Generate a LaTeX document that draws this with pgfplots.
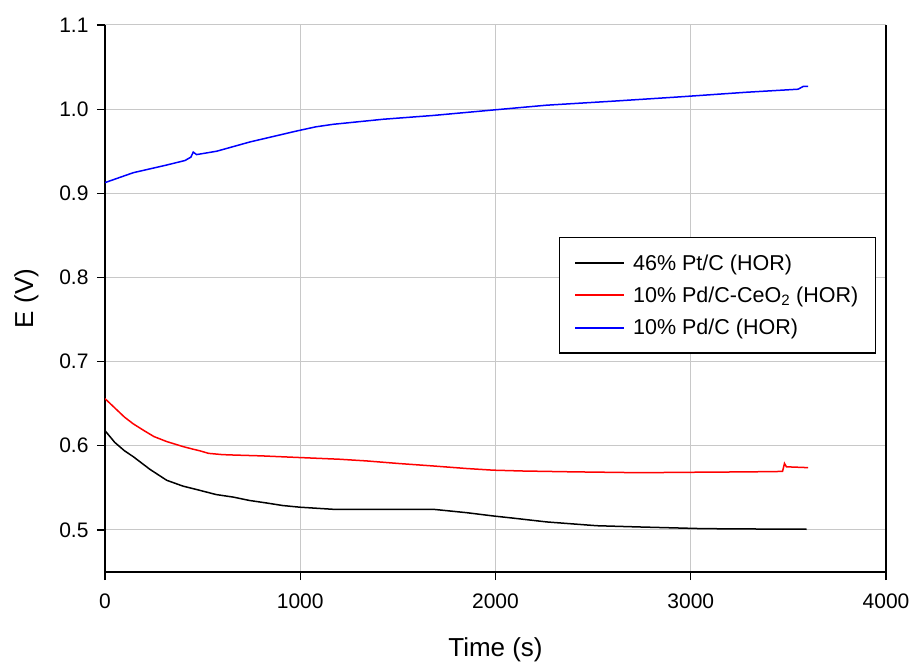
\documentclass[border=0pt]{standalone}
\usepackage{fontspec}
\setmainfont{Liberation Sans}
\usepackage{pgfplots}
\pgfplotsset{compat=1.18}
\definecolor{gridgray}{RGB}{200,200,200}
\begin{document}
\begin{tikzpicture}
\begin{axis}[
  scale only axis,
  width=781pt, height=547pt,
  xmin=0, xmax=4000, ymin=0.45, ymax=1.1,
  axis x line*=bottom, axis y line*=left,
  axis line style={line width=1.3pt, -},
  xtick={0,1000,2000,3000,4000},
  ytick={0.5,0.6,0.7,0.8,0.9,1.0,1.1},
  tick align=outside,
  major tick length=8pt,
  tick style={line width=1.2pt, black},
  grid=major,
  major grid style={line width=1pt, gridgray},
  /pgf/number format/assume math mode=true,
  xticklabel style={yshift=-10pt, /pgf/number format/1000 sep={}},
  yticklabel style={xshift=-5pt, /pgf/number format/.cd, fixed, fixed zerofill, precision=1},
  ticklabel style={font=\fontsize{21}{25}\selectfont},
  xlabel={Time (s)}, ylabel={E (V)},
  xlabel style={yshift=-22pt},
  ylabel style={yshift=14pt},
  label style={font=\fontsize{26}{30}\selectfont},
  legend style={draw=black, line width=1.2pt, at={(0.987,0.612)}, anchor=north east,
    font=\fontsize{21.5}{25}\selectfont, row sep=11pt, inner xsep=15pt, inner ysep=15pt,
    cells={anchor=west}},
  legend cell align=left,
]
\addplot[color=black, line width=1.5pt,
  legend image code/.code={\draw[black, line width=2pt] (0pt,0pt) -- (49pt,0pt); \path (55pt,0pt);}] coordinates {
(0,0.618) (50,0.604) (100,0.594) (145,0.587) (230,0.572) (316,0.559) (400,0.552)
(486,0.547) (570,0.542) (657,0.539) (740,0.535) (828,0.532) (910,0.529) (998,0.527)
(1169,0.5245) (1681,0.5245) (1852,0.5205) (1988,0.5166) (2091,0.514) (2262,0.5095)
(2518,0.505) (2739,0.5035) (3064,0.5015) (3400,0.501) (3593,0.5008)};
\addlegendentry{46\% Pt/C (HOR)}
\addplot[color=red, line width=1.5pt,
  legend image code/.code={\draw[red, line width=2pt] (0pt,0pt) -- (49pt,0pt); \path (55pt,0pt);}] coordinates {
(0,0.656) (50,0.645) (100,0.634) (145,0.626) (200,0.618) (250,0.611) (316,0.605)
(400,0.599) (450,0.596) (486,0.594) (530,0.591) (600,0.5895) (657,0.589) (800,0.588) (998,0.586) (1200,0.584)
(1339,0.582) (1500,0.579) (1681,0.576) (1850,0.573) (1988,0.571) (2142,0.570)
(2400,0.569) (2739,0.568) (3000,0.5685) (3300,0.569) (3470,0.5695) (3480,0.579)
(3490,0.575) (3601,0.574)};
\addlegendentry{10\% Pd/C-CeO\textsubscript{2} (HOR)}
\addplot[color=blue, line width=1.5pt,
  legend image code/.code={\draw[blue, line width=2pt] (0pt,0pt) -- (49pt,0pt); \path (55pt,0pt);}] coordinates {
(0,0.9127) (145,0.9245) (316,0.9336) (410,0.939) (440,0.943) (452,0.949) (469,0.946)
(572,0.950) (742,0.961) (981,0.974) (1080,0.979) (1169,0.982) (1425,0.988)
(1681,0.9925) (1988,0.999) (2262,1.0047) (2603,1.0095) (2944,1.0146) (3286,1.0201)
(3550,1.0237) (3576,1.027) (3601,1.027)};
\addlegendentry{10\% Pd/C (HOR)}
\coordinate (ll) at (rel axis cs:0,0);
\coordinate (ur) at (rel axis cs:1,1);
\end{axis}
\draw[line width=1.3pt, black] (ur |- ll) -- (ur);
\pgfresetboundingbox
\path ([xshift=-105pt,yshift=-89pt]ll) rectangle ([xshift=26pt,yshift=25pt]ur);
\end{tikzpicture}
\end{document}
